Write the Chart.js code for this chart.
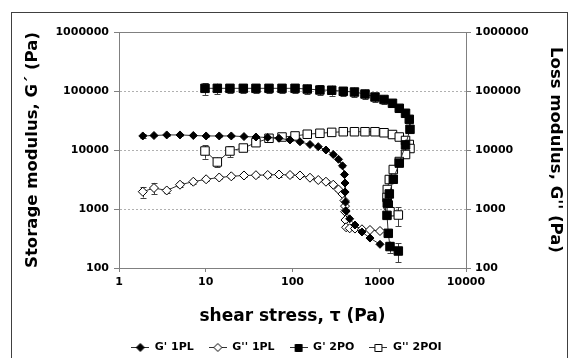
<!DOCTYPE html>
<html>
<head>
<meta charset="utf-8">
<script src="https://cdn.jsdelivr.net/npm/chart.js@4.4.0/dist/chart.umd.min.js"></script>
<style>
  html, body { margin: 0; padding: 0; background: #fff; }
  #wrap { position: relative; width: 573px; height: 358px; }
</style>
</head>
<body>
<div id="wrap"><canvas id="rheoChart" width="573" height="358"></canvas></div>
<script>
// axis ticks
const xTicks = [1, 10, 100, 1000, 10000];
const yTicks = [100, 1000, 10000, 100000, 1000000];

// 1PL sample (shear stress in Pa, moduli in Pa)
const stress1PL = [1.88, 2.53, 3.55, 5.05, 7.19, 10.1, 14.3, 19.7, 27.6, 37.9, 51.8, 69.9, 93.6, 122, 159, 198, 243, 295, 339, 377, 397, 403, 404, 408, 415, 456, 525, 632, 782, 1020];
const storage1PL = [17300, 17600, 18000, 18000, 17600, 17300, 17300, 17300, 16900, 16600, 16300, 15800, 14800, 13800, 12400, 11400, 10000, 8390, 6960, 5400, 3840, 2760, 1940, 1310, 925, 682, 535, 408, 322, 252];
const loss1PL = [1965, 2270, 2060, 2580, 2900, 3190, 3420, 3580, 3700, 3740, 3770, 3840, 3770, 3700, 3390, 3100, 2900, 2580, 2140, 1800, 1390, 1120, 900, 651, 490, 471, 466, 453, 441, 424];
const storage1PLErr = [1200, 600, 500, 500, 500, 500, 500, 500, 500, 500, 500, 500, 400, 400, 300, 300, 300, 200, 200, 200, 0, 0, 0, 0, 0, 0, 0, 0, 0, 0];
const loss1PLErr = [400, 500, 200, 250, 200, 200, 200, 200, 250, 250, 300, 300, 250, 200, 150, 150, 150, 150, 100, 100, 0, 0, 0, 0, 0, 0, 0, 0, 0, 0];

// 2PO sample
const stress2PO = [9.80, 13.6, 19.0, 27.1, 37.9, 53.6, 75.7, 107, 148, 207, 283, 385, 518, 685, 893, 1135, 1421, 1702, 2009, 2219, 2261, 2009, 1702, 1452, 1306, 1238, 1228, 1271, 1330, 1659];
const storage2PO = [111000, 111000, 111000, 111000, 111000, 111000, 111000, 111000, 108000, 104000, 103000, 98900, 96100, 88900, 79100, 71800, 61900, 50900, 41900, 33100, 22400, 12200, 6000, 3190, 1800, 1260, 780, 387, 231, 194];
const loss2POI = [9620, 6260, 9620, 10800, 13300, 15800, 16600, 17300, 18500, 19200, 19900, 20400, 20400, 20400, 20400, 19600, 18300, 16600, 14500, 12400, 10600, 8390, 6380, 4670, 3160, 2140, 1570, 1170, 900, 791];
const storage2POErr = [25000, 22000, 20000, 20000, 20000, 20000, 20000, 20000, 20000, 20000, 20000, 18000, 18000, 16000, 14000, 12000, 9000, 7000, 5000, 3000, 2000, 0, 0, 0, 0, 0, 0, 0, 50, 70];
const loss2POIErr = [2500, 1200, 2000, 800, 600, 500, 500, 500, 500, 500, 500, 500, 500, 500, 500, 500, 500, 500, 500, 500, 0, 0, 0, 0, 0, 0, 0, 0, 0, 280];

const seriesLabels = ["G' 1PL", "G'' 1PL", "G' 2PO", "G'' 2POI"];

const FONT = '"DejaVu Sans", Arial, sans-serif';
const AXIS_GREY = '#808080';
const LINE_COL = '#303030';

const toPoints = (xs, ys) => xs.map((x, i) => ({ x: x, y: ys[i] }));

// little line+marker icons for the legend
function makeIcon(shape, filled) {
  const c = document.createElement('canvas');
  c.width = 18; c.height = 10;
  const g = c.getContext('2d');
  g.strokeStyle = LINE_COL; g.lineWidth = 1;
  g.beginPath(); g.moveTo(0, 5.5); g.lineTo(18, 5.5); g.stroke();
  g.fillStyle = filled ? '#000' : '#fff';
  g.strokeStyle = '#000';
  g.beginPath();
  if (shape === 'diamond') {
    g.moveTo(9, 1.5); g.lineTo(13, 5.5); g.lineTo(9, 9.5); g.lineTo(5, 5.5); g.closePath();
  } else {
    g.rect(5.5, 2.5, 7, 7);
  }
  g.fill(); g.stroke();
  return c;
}
const legendIcons = [makeIcon('diamond', true), makeIcon('diamond', false), makeIcon('square', true), makeIcon('square', false)];

const errorBarPlugin = {
  id: 'errorBars',
  beforeDatasetsDraw(chart) {
    const ctx = chart.ctx;
    chart.data.datasets.forEach((ds, i) => {
      if (!ds.errorBars) return;
      const meta = chart.getDatasetMeta(i);
      const yScale = chart.scales[ds.yAxisID];
      ctx.save();
      ctx.strokeStyle = '#404040';
      ctx.lineWidth = 1;
      meta.data.forEach((pt, j) => {
        const e = ds.errorBars[j];
        if (!e) return;
        const v = ds.data[j].y;
        const yTop = yScale.getPixelForValue(v + e);
        const yBot = yScale.getPixelForValue(Math.max(v - e, 1));
        const x = Math.round(pt.x) + 0.5;
        ctx.beginPath();
        ctx.moveTo(x, yTop); ctx.lineTo(x, yBot);
        ctx.moveTo(x - 3, Math.round(yTop) + 0.5); ctx.lineTo(x + 3, Math.round(yTop) + 0.5);
        ctx.moveTo(x - 3, Math.round(yBot) + 0.5); ctx.lineTo(x + 3, Math.round(yBot) + 0.5);
        ctx.stroke();
      });
      ctx.restore();
    });
  }
};

const framePlugin = {
  id: 'frame',
  afterDraw(chart) {
    const ctx = chart.ctx;
    ctx.save();
    ctx.strokeStyle = '#404040';
    ctx.lineWidth = 1;
    ctx.strokeRect(11.5, 12.5, 556, 350);
    ctx.restore();
  }
};

const setTicks = list => scale => { scale.ticks = list.map(v => ({ value: v })); };

new Chart(document.getElementById('rheoChart'), {
  type: 'scatter',
  data: {
    datasets: [
      {
        label: seriesLabels[0],
        data: toPoints(stress1PL, storage1PL),
        errorBars: storage1PLErr,
        yAxisID: 'y',
        showLine: true,
        borderColor: LINE_COL,
        borderWidth: 1,
        pointStyle: 'rectRot',
        pointRadius: 4,
        pointBackgroundColor: '#000',
        pointBorderColor: '#000',
        pointBorderWidth: 1
      },
      {
        label: seriesLabels[1],
        data: toPoints(stress1PL, loss1PL),
        errorBars: loss1PLErr,
        yAxisID: 'y2',
        showLine: true,
        borderColor: LINE_COL,
        borderWidth: 1,
        pointStyle: 'rectRot',
        pointRadius: 4.5,
        pointBackgroundColor: '#fff',
        pointBorderColor: '#000',
        pointBorderWidth: 1
      },
      {
        label: seriesLabels[2],
        data: toPoints(stress2PO, storage2PO),
        errorBars: storage2POErr,
        yAxisID: 'y',
        showLine: true,
        borderColor: LINE_COL,
        borderWidth: 1,
        pointStyle: 'rect',
        pointRadius: 6,
        pointBackgroundColor: '#000',
        pointBorderColor: '#000',
        pointBorderWidth: 1
      },
      {
        label: seriesLabels[3],
        data: toPoints(stress2PO, loss2POI),
        errorBars: loss2POIErr,
        yAxisID: 'y2',
        showLine: true,
        borderColor: LINE_COL,
        borderWidth: 1,
        pointStyle: 'rect',
        pointRadius: 6,
        pointBackgroundColor: '#fff',
        pointBorderColor: '#000',
        pointBorderWidth: 1
      }
    ]
  },
  options: {
    responsive: false,
    animation: false,
    layout: { padding: { top: 32, left: 0, right: 0, bottom: -4.5 } },
    plugins: {
      tooltip: { enabled: false },
      legend: {
        display: true,
        position: 'bottom',
        labels: {
          usePointStyle: true,
          pointStyleWidth: 18,
          padding: 15,
          color: '#000',
          font: { family: FONT, size: 11, weight: 'bold' },
          generateLabels: chart => Chart.defaults.plugins.legend.labels.generateLabels(chart)
            .map((l, i) => ({ ...l, pointStyle: legendIcons[i] }))
        }
      }
    },
    scales: {
      x: {
        type: 'logarithmic',
        position: 'bottom',
        min: 1,
        max: 10000,
        afterBuildTicks: setTicks(xTicks),
        afterFit: s => { s.height = 58.5; },
        ticks: {
          color: '#000',
          font: { family: FONT, size: 11, weight: 'bold' },
          padding: 4,
          maxRotation: 0,
          callback: v => String(v)
        },
        grid: { drawOnChartArea: false, tickLength: 4, color: AXIS_GREY },
        border: { color: AXIS_GREY, width: 1 },
        title: {
          display: true,
          text: 'shear stress, \u03c4 (Pa)',
          color: '#000',
          font: { family: FONT, size: 17, weight: 'bold' },
          padding: { top: -4, bottom: 0 }
        }
      },
      xTop: {
        type: 'logarithmic',
        position: 'top',
        min: 1,
        max: 10000,
        afterFit: s => { s.height = 0; },
        ticks: { display: false },
        grid: { display: false },
        border: { color: AXIS_GREY, width: 1 }
      },
      y: {
        type: 'logarithmic',
        position: 'left',
        min: 100,
        max: 1000000,
        afterBuildTicks: setTicks(yTicks),
        afterFit: s => { s.width = 119; },
        ticks: {
          color: '#000',
          font: { family: FONT, size: 11, weight: 'bold' },
          padding: 5,
          callback: v => String(v)
        },
        grid: {
          color: c => (c.tick && (c.tick.value === 100 || c.tick.value === 1000000)) ? 'rgba(0,0,0,0)' : '#b0b0b0',
          tickColor: AXIS_GREY,
          tickLength: 5
        },
        border: { color: AXIS_GREY, width: 1, dash: [2, 2] },
        title: {
          display: true,
          text: 'Storage modulus, G\u00b4 (Pa)',
          color: '#000',
          font: { family: FONT, size: 16.5, weight: 'bold' },
          padding: { top: 23, bottom: 0 }
        }
      },
      y2: {
        type: 'logarithmic',
        position: 'right',
        min: 100,
        max: 1000000,
        afterBuildTicks: setTicks(yTicks),
        afterFit: s => { s.width = 107; },
        ticks: {
          color: '#000',
          font: { family: FONT, size: 11, weight: 'bold' },
          padding: 4,
          callback: v => String(v)
        },
        grid: { drawOnChartArea: false, tickColor: AXIS_GREY, tickLength: 5 },
        border: { color: AXIS_GREY, width: 1 },
        title: {
          display: true,
          text: "Loss modulus, G'' (Pa)",
          color: '#000',
          font: { family: FONT, size: 16.5, weight: 'bold' },
          padding: { top: 8, bottom: 0 }
        }
      }
    }
  },
  plugins: [errorBarPlugin, framePlugin]
});
</script>
</body>
</html>
